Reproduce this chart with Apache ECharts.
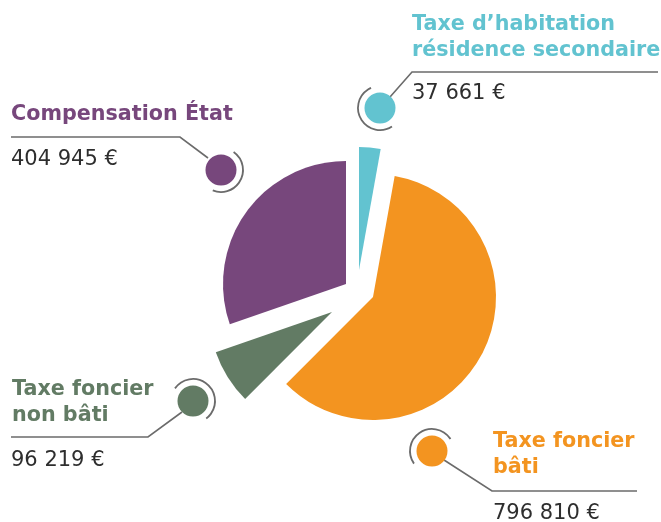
<!DOCTYPE html>
<html>
<head>
<meta charset="utf-8">
<script src="https://cdn.jsdelivr.net/npm/echarts@6/dist/echarts.min.js"></script>
<style>html,body{margin:0;padding:0;background:#fff}#c{width:661px;height:522px}</style>
</head>
<body>
<div id="c"></div>
<script>
// ---- data ----
const categories = ['Taxe d’habitation\nrésidence secondaire', 'Taxe foncier\nbâti', 'Taxe foncier\nnon bâti', 'Compensation État'];
const values = [37661, 796810, 96219, 404945];
const colors = ['#62c3d0', '#f39420', '#627b64', '#77477c'];

// ---- layout (pixels) ----
const sliceCenters = [[359, 270], [373, 297], [332, 312], [346, 284]];
const pieRadius = 123;
const dotCenters = [[380, 108], [432, 451], [193, 401], [221, 170]];
const dotRadius = 15.5;
const arcRadius = 22;
const arcAngles = [[57, 246], [145, 327], [215, 413], [-55, 112]];
const leaders = [
  [[390, 97], [412, 72], [658, 72]],
  [[444, 460], [492, 491], [637, 491]],
  [[182, 412], [148, 437], [11, 437]],
  [[208, 158], [180, 137], [11, 137]]
];
const titlePos = [[412, 25], [493, 442], [12, 390], [11, 115]];
const valuePos = [[412, 94], [493, 514], [11, 461], [11, 160]];
const titleLineH = 26;

function fmt(v) {
  return String(v).replace(/\B(?=(\d{3})+(?!\d))/g, ' ') + ' €';
}

const series = categories.map((name, i) => ({
  type: 'pie',
  silent: true,
  animation: false,
  startAngle: 90,
  clockwise: true,
  center: sliceCenters[i],
  radius: [0, pieRadius],
  label: { show: false },
  labelLine: { show: false },
  emphasis: { disabled: true },
  data: values.map((v, j) => ({
    name: categories[j],
    value: v,
    itemStyle: { color: j === i ? colors[j] : 'rgba(0,0,0,0)' }
  }))
}));

const elements = [];
categories.forEach((name, i) => {
  const d = dotCenters[i];
  elements.push({
    type: 'polyline', silent: true,
    shape: { points: leaders[i] },
    style: { stroke: '#6b6b6b', lineWidth: 1.6, fill: null }
  });
  elements.push({
    type: 'arc', silent: true,
    shape: { cx: d[0], cy: d[1], r: arcRadius,
      startAngle: arcAngles[i][0] * Math.PI / 180,
      endAngle: arcAngles[i][1] * Math.PI / 180, clockwise: true },
    style: { stroke: '#6b6b6b', lineWidth: 1.8, fill: null }
  });
  elements.push({
    type: 'circle', silent: true,
    shape: { cx: d[0], cy: d[1], r: dotRadius },
    style: { fill: colors[i] }
  });
  name.split('\n').forEach((line, k) => {
    elements.push({
      type: 'text', silent: true,
      style: {
        text: line, x: titlePos[i][0], y: titlePos[i][1] + k * titleLineH,
        fill: colors[i], font: 'bold 20.7px "DejaVu Sans"',
        textAlign: 'left', textVerticalAlign: 'middle'
      }
    });
  });
  elements.push({
    type: 'text', silent: true,
    style: {
      text: fmt(values[i]), x: valuePos[i][0], y: valuePos[i][1],
      fill: '#2e2e2e', font: 'normal 21px "DejaVu Sans"',
      textAlign: 'left', textVerticalAlign: 'middle'
    }
  });
});

const chart = echarts.init(document.getElementById('c'), null, { renderer: 'canvas' });
chart.setOption({
  backgroundColor: '#ffffff',
  animation: false,
  series: series,
  graphic: { elements: elements }
});
</script>
</body>
</html>
